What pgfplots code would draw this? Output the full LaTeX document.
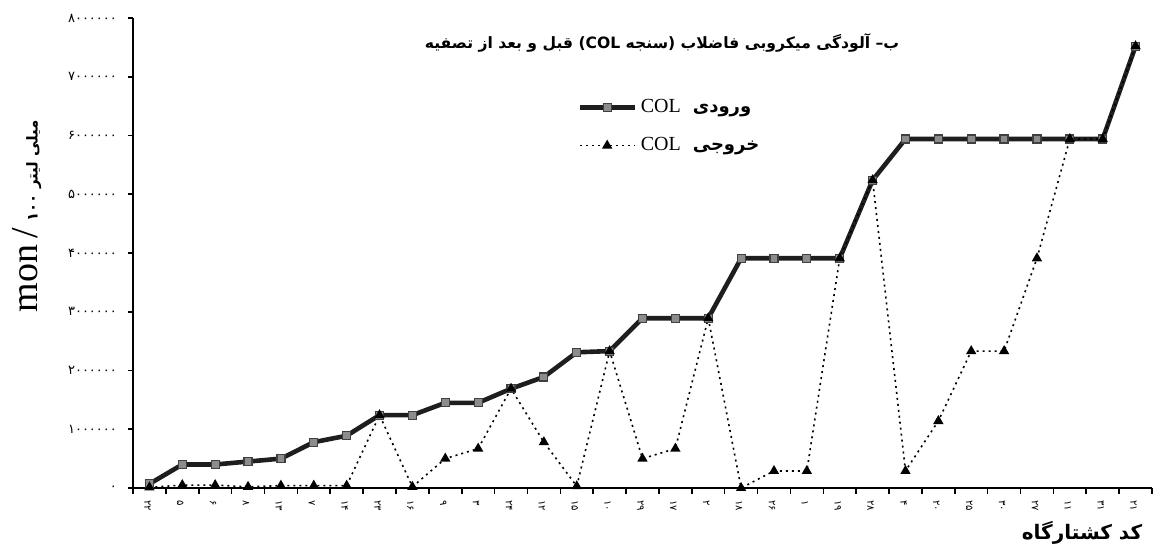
\documentclass[border=0pt]{standalone}
\usepackage{pgfplots}
\usepackage{pgfplotstable}
\pgfplotsset{compat=1.18}
\usepackage{fontspec}
\setmainfont{Liberation Serif}
\newfontfamily\fa[Script=Arabic]{DejaVu Sans}
\TeXXeTstate=1

% COL before (in) and after (out) treatment, per slaughterhouse
\pgfplotstableread{
x colin colout
0 70000 10000
1 400000 50000
2 400000 50000
3 450000 20000
4 500000 40000
5 780000 40000
6 890000 40000
7 1240000 1240000
8 1240000 20000
9 1450000 500000
10 1450000 670000
11 1690000 1690000
12 1890000 780000
13 2310000 30000
14 2330000 2330000
15 2890000 500000
16 2890000 670000
17 2890000 2890000
18 3910000 0
19 3910000 290000
20 3910000 290000
21 3910000 3910000
22 5240000 5240000
23 5940000 290000
24 5940000 1140000
25 5940000 2330000
26 5940000 2330000
27 5940000 3910000
28 5940000 5940000
29 5940000 5940000
30 7520000 7520000
}\coldata

\definecolor{inline}{HTML}{1E1E1E}
\definecolor{inmark}{HTML}{8C8C8C}

\begin{document}
\begin{tikzpicture}[x=1pt,y=1pt]
\path[use as bounding box] (0,0) rectangle (580,274.5);
\begin{axis}[
    at={(66.5pt,30.5pt)}, anchor=south west,
    scale only axis, width=509.5pt, height=235pt,
    xmin=-0.5, xmax=30.5, ymin=0, ymax=8000000,
    axis x line*=bottom, axis y line*=left,
    axis line style={line width=0.9pt, black},
    clip=false,
    tick align=outside,
    xtick={0,...,30},
    xticklabels={۲۲,۵,۶,۸,۱۳,۷,۱۴,۲۳,۱۶,۹,۳,۲۴,۱۲,۱۵,۱۰,۲۹,۱۷,۲,۱۸,۲۶,۱,۱۹,۲۸,۴,۲۰,۲۵,۳۰,۲۷,۱۱,۳۱,۲۱},
    xticklabel style={font=\fa\fontsize{5}{5}\selectfont, rotate=-90, anchor=west, yshift=-1pt},
    major x tick style={draw=none},
    minor xtick={-0.5,0.5,...,30.5},
    minor tick length=3pt,
    minor x tick style={line width=0.8pt, black},
    ytick={0,1000000,2000000,3000000,4000000,5000000,6000000,7000000,8000000},
    yticklabels={۰,۱۰۰۰۰۰۰,۲۰۰۰۰۰۰,۳۰۰۰۰۰۰,۴۰۰۰۰۰۰,۵۰۰۰۰۰۰,۶۰۰۰۰۰۰,۷۰۰۰۰۰۰,۸۰۰۰۰۰۰},
    yticklabel style={font=\fa\fontsize{6.5}{7}\selectfont, xshift=-2pt},
    major tick length=2.5pt,
    major y tick style={line width=0.8pt, black},
    scaled y ticks=false,
    legend image code/.code={\draw[mark repeat=2,mark phase=2,#1] plot coordinates {(0cm,0cm) (0.48cm,0cm) (0.96cm,0cm)};},
    legend style={draw=none, fill=none, at={(0.430,0.845)}, anchor=north west,
        font=\fontsize{10}{12}\selectfont, row sep=7pt, cells={anchor=west}},
]
\addplot[color=inline, line width=2.3pt, mark=square*,
    mark options={fill=inmark, draw=black!75, line width=0.6pt, mark size=2pt}]
    table[x=x, y=colin] {\coldata};
\addlegendentry{COL\hspace{6pt}{\fa\bfseries\fontsize{9}{11}\selectfont\beginR ورودی\endR}}
\addplot[black, line width=0.8pt, dash pattern=on 1pt off 2pt, mark=triangle*,
    mark options={solid, fill=black, mark size=2.2pt}]
    table[x=x, y=colout] {\coldata};
\addlegendentry{COL\hspace{6pt}{\fa\bfseries\fontsize{9}{11}\selectfont\beginR خروجی\endR}}
\end{axis}
\node[font=\fa\bfseries\fontsize{7.8}{9}\selectfont] at (331,253)
    {\beginR ب– آلودگی میکروبی فاضلاب \mbox{(}سنجه \beginL COL\endL\mbox{)} قبل و بعد از تصفیه\endR};
\node[rotate=90] at (13.5,166.5)
    {{\fontsize{19}{21}\selectfont mon\,/\,}{\fa\bfseries\fontsize{7.5}{9}\selectfont ۱۰۰ \beginR میلی لیتر\endR}};
\node[font=\fa\bfseries\fontsize{10}{12}\selectfont] at (541,8) {\beginR کد کشتارگاه\endR};
\end{tikzpicture}
\end{document}
